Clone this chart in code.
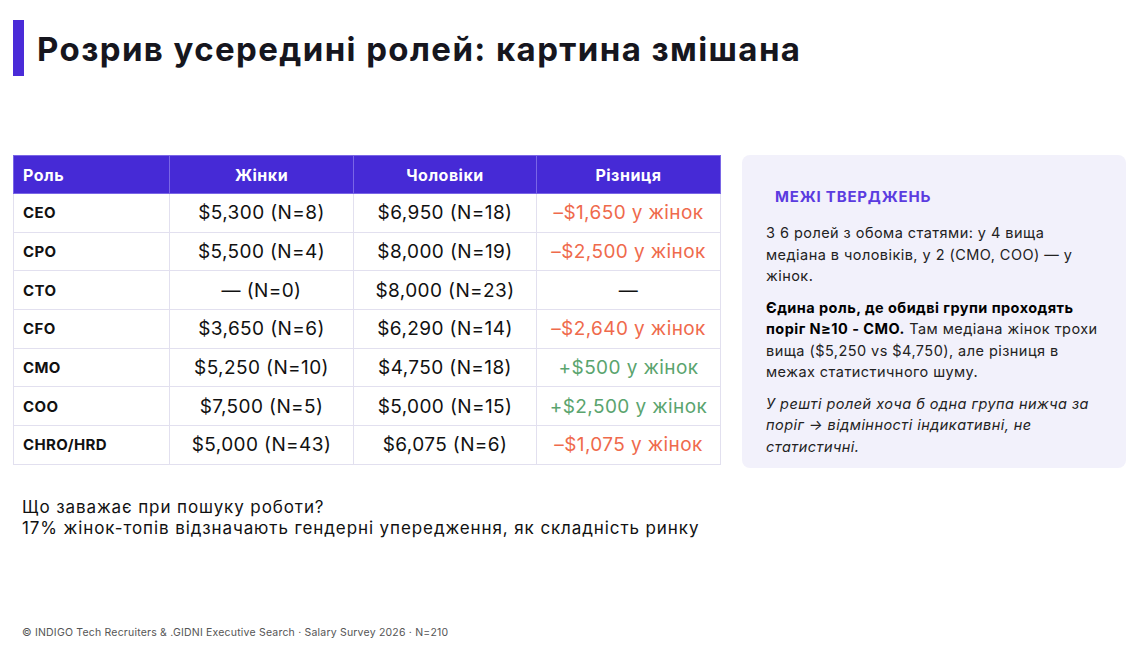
<!DOCTYPE html>
<html><head><meta charset="utf-8">
<script src="https://cdn.jsdelivr.net/npm/chart.js@4/dist/chart.umd.min.js"></script>
<style>
body{margin:0;width:1144px;height:648px;background:#fff;font-family:Inter,"Open Sans",sans-serif;color:#111;position:relative;overflow:hidden}
.bar{position:absolute;left:13px;top:20px;width:11px;height:56px;background:#4a2bd8}
h1{position:absolute;left:37px;top:29px;margin:0;font-size:33px;font-weight:700;color:#16161e;letter-spacing:1.4px}
table{position:absolute;left:13px;top:155px;border-collapse:collapse;width:707px;table-layout:fixed}
tr.h{height:38px}
tr.r{height:38.7px}
th{background:#462ad6;color:#fff;font-size:16px;font-weight:700;padding:0;border:1px solid #7a66e6;letter-spacing:0.5px}
th:first-child{text-align:left;padding-left:9px}
td{border:1px solid #e2e0ef;font-size:19px;text-align:center;padding:0;letter-spacing:0.4px}
td:first-child{text-align:left;padding-left:9px;font-size:15px;font-weight:700}
.neg{color:#ef6a4c}.pos{color:#5aa46e}
.box{position:absolute;left:742px;top:155px;width:384px;height:313px;background:#f2f1fb;border-radius:8px}
.box h3{position:absolute;left:33px;top:32px;margin:0;font-size:15px;font-weight:700;color:#5b3ce0;letter-spacing:0.8px}
.txt{position:absolute;left:24px;top:67px;width:335px}
.txt p{margin:0 0 10px 0;font-size:14.5px;line-height:21.5px;color:#222;letter-spacing:0.45px}
.note{position:absolute;left:22px;top:497px;font-size:17px;line-height:21px;color:#111;letter-spacing:0.9px}
.foot{position:absolute;left:22px;top:626px;font-size:10.5px;color:#555;letter-spacing:0.2px}
</style></head><body>
<div class="bar"></div>
<h1>Розрив усередині ролей: картина змішана</h1>
<table id="t"><colgroup><col style="width:156px"><col style="width:184px"><col style="width:183px"><col style="width:184px"></colgroup></table>
<div class="box"><h3>МЕЖІ ТВЕРДЖЕНЬ</h3>
<div class="txt">
<p>З 6 ролей з обома статями: у 4 вища медіана в чоловіків, у 2 (CMO, COO) — у жінок.</p>
<p><b style="color:#000">Єдина роль, де обидві групи проходять поріг N≥10 - CMO.</b> Там медіана жінок трохи вища ($5,250 vs $4,750), але різниця в межах статистичного шуму.</p>
<p style="font-style:italic">У решті ролей хоча б одна група нижча за поріг → відмінності індикативні, не статистичні.</p>
</div></div>
<div class="note">Що заважає при пошуку роботи?<br>17% жінок-топів відзначають гендерні упередження, як складність ринку</div>
<div class="foot">© INDIGO Tech Recruiters &amp; .GIDNI Executive Search · Salary Survey 2026 · N=210</div>
<script>
const headers=["Роль","Жінки","Чоловіки","Різниця"];
const roles=["CEO","CPO","CTO","CFO","CMO","COO","CHRO/HRD"];
const women=["$5,300 (N=8)","$5,500 (N=4)","— (N=0)","$3,650 (N=6)","$5,250 (N=10)","$7,500 (N=5)","$5,000 (N=43)"];
const men=["$6,950 (N=18)","$8,000 (N=19)","$8,000 (N=23)","$6,290 (N=14)","$4,750 (N=18)","$5,000 (N=15)","$6,075 (N=6)"];
const diffs=["–$1,650 у жінок","–$2,500 у жінок","—","–$2,640 у жінок","+$500 у жінок","+$2,500 у жінок","–$1,075 у жінок"];
const t=document.getElementById('t');
let h='<tr class="h">'+headers.map(x=>'<th>'+x+'</th>').join('')+'</tr>';
roles.forEach((r,i)=>{const d=diffs[i];const c=d.startsWith('–')?'neg':d.startsWith('+')?'pos':'';
h+=`<tr class="r"><td>${r}</td><td>${women[i]}</td><td>${men[i]}</td><td class="${c}">${d}</td></tr>`;});
t.insertAdjacentHTML('beforeend',h);
</script>
</body></html>
